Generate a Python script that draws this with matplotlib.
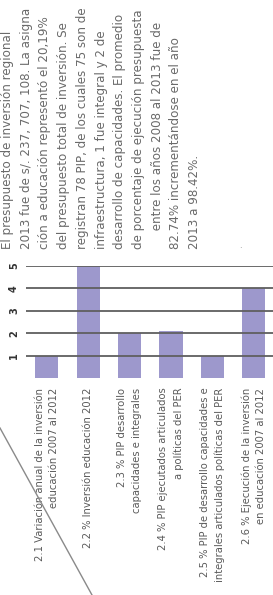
import matplotlib
matplotlib.use("Agg")
import matplotlib.pyplot as plt
from matplotlib.lines import Line2D

categories = [
    "2.1 Variación anual de la inversión\neducación 2007 al 2012",
    "2.2 % Inversión educación 2012",
    "2.3 % PIP desarrollo\ncapacidades e integrales",
    "2.4 % PIP ejecutados articulados\na políticas del PER",
    "2.5 % PIP de desarrollo capacidades e\nintegrales articulados políticas del PER",
    "2.6 % Ejecución de la inversión\nen educación 2007 al 2012",
]
values = [1, 5, 2, 2.1, 1, 4]
yticks = [1, 2, 3, 4, 5]
note_lines = [
    "El presupuesto de inversión regional",
    "2013 fue de s/. 237, 707, 108. La asigna",
    "ción a educación representó el 20,19%",
    "del presupuesto total de inversión. Se",
    "registran 78 PIP, de los cuales 75 son de",
    "infraestructura, 1 fue integral y 2 de",
    "desarrollo de capacidades. El promedio",
    "de porcentaje de ejecución presupuesta",
    "     entre los años 2008 al 2013 fue de",
    "82.74% incrementándose en el año",
    "2013 a 98.42%.",
]

W, H = 273, 595
fig = plt.figure(figsize=(W / 100, H / 100), dpi=100)
fig.patch.set_facecolor("white")

ax_left, ax_right = 26, 274.5
ax_top, ax_bottom = 266, 378
ax = fig.add_axes([ax_left / W, 1 - ax_bottom / H,
                   (ax_right - ax_left) / W, (ax_bottom - ax_top) / H])

x = list(range(len(categories)))
ax.bar(x, values, width=0.56, color="#9d98cc", zorder=1)
for t in yticks:
    ax.axhline(t, color="#5f5f5f", lw=1.3, zorder=3, xmin=0, xmax=1)

ax.set_xlim(-0.5, 5.5)
ax.set_ylim(0, 5)
for s in ax.spines.values():
    s.set_visible(False)

ax.set_yticks(yticks)
ax.set_yticklabels([str(t) for t in yticks], rotation=90, fontsize=7,
                   fontweight="bold", color="#333333", va="center")
ax.tick_params(axis="y", length=0, pad=5)

ax.set_xticks(x)
ax.set_xticklabels(categories, rotation=90, fontsize=7.2, color="#5a5a5a",
                   ha="center", va="top", multialignment="right",
                   linespacing=1.55)
ax.tick_params(axis="x", length=0, pad=7)

fig.text(1 / W, 1 - 249 / H, "\n".join(note_lines), rotation=90,
         ha="left", va="bottom", multialignment="left",
         fontsize=8.6, color="#6a6a6a", linespacing=1.57)

fig.text(240 / W, 1 - 246 / H, ".", fontsize=6, color="#888888",
         ha="center", va="center")

fig.add_artist(Line2D([0, 92 / W], [1 - 428 / H, 1 - 595 / H],
                      transform=fig.transFigure, color="#8a8a8a", lw=1.0))

fig.savefig("out.png", dpi=100, facecolor="white")
